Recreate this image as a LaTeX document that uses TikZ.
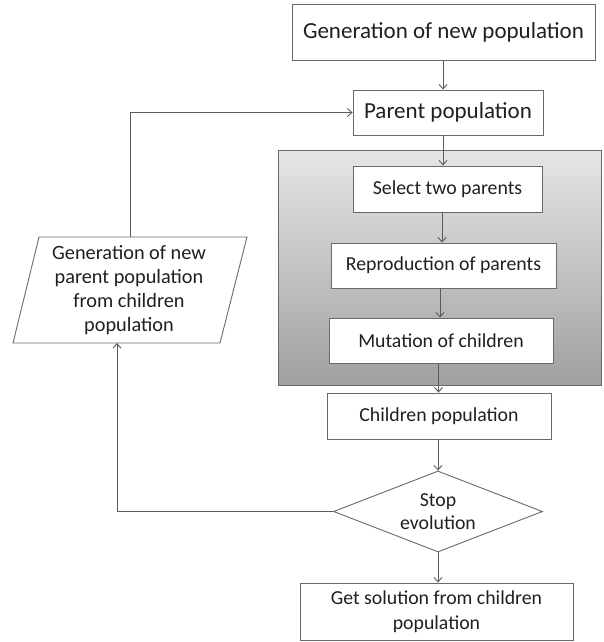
\documentclass[tikz,border=0pt]{standalone}
\usepackage{fontspec}
\setmainfont{Carlito}
\usetikzlibrary{arrows.meta,shapes.geometric,calc}
\definecolor{linec}{HTML}{5A5A5A}
\definecolor{boxc}{HTML}{6A6A6A}
\definecolor{txtc}{HTML}{202020}
\begin{document}
\begin{tikzpicture}[x=1pt,y=-1pt,
  every node/.style={text=txtc},
  box/.style={draw=boxc,line width=0.9pt,fill=white,inner sep=0pt,align=center,font=\fontsize{19.8}{24}\selectfont},
  bigbox/.style={box,font=\fontsize{23}{27}\selectfont},
  arr/.style={draw=linec,line width=0.9pt,-{Straight Barb[length=4.5pt,width=8pt]}},
  ln/.style={draw=linec,line width=0.9pt}]
\useasboundingbox (0,0) rectangle (603,642);
% gray frame
\shade[top color={rgb,255:red,230;green,230;blue,230},bottom color={rgb,255:red,160;green,160;blue,160},draw=boxc,line width=0.9pt] (278,150) rectangle (601,385);
\node[bigbox,minimum width=303pt,minimum height=56pt] (gen) at (443.5,32) {Generation of new population};
\node[bigbox,minimum width=190pt,minimum height=45pt] (parent) at (448,112.5) {Parent population};
\node[box,minimum width=189pt,minimum height=46pt] (sel) at (447.5,189) {Select two parents};
\node[box,minimum width=225pt,minimum height=45pt] (rep) at (443.5,265.5) {Reproduction of parents};
\node[box,minimum width=224pt,minimum height=45pt] (mut) at (441,340.5) {Mutation of children};
\node[box,minimum width=224pt,minimum height=46pt] (chi) at (439,416) {Children population};
\node[box,diamond,minimum width=209pt,minimum height=81pt,aspect=2.58,font=\fontsize{19.8}{23}\selectfont] (dia) at (438,511.5) {Stop\\evolution};
\node[box,minimum width=273pt,minimum height=57pt,font=\fontsize{19.8}{25}\selectfont] (sol) at (436.5,611.5) {Get solution from children\\population};
% parallelogram
\draw[draw=boxc,line width=0.9pt,fill=white] (39,237) -- (247,237) -- (220,343) -- (13,343) -- cycle;
\node[align=center,inner sep=0pt,font=\fontsize{20.3}{24}\selectfont] (newpar) at (129,290) {Generation of new\\parent population\\from children\\population};
\coordinate (ptop) at (130,237);
\coordinate (pbot) at (117,343);
\coordinate (xa) at (443,0);
\coordinate (xb) at (442,0);
\coordinate (xc) at (440,0);
\coordinate (xd) at (438.5,0);
\coordinate (xe) at (438,0);
% connectors
\draw[arr] (gen.south -| xa) -- (parent.north -| xa);
\draw[arr] (parent.south -| xa) -- (sel.north -| xa);
\draw[arr] (sel.south -| xb) -- (rep.north -| xb);
\draw[arr] (rep.south -| xc) -- (mut.north -| xc);
\draw[arr] (mut.south -| xd) -- (chi.north -| xd);
\draw[arr] (chi.south -| xe) -- (dia.north);
\draw[arr] (dia.south) -- (sol.north -| xe);
\draw[arr] (dia.west) -- (dia.west -| pbot) -- (pbot);
\draw[arr] (ptop) |- (parent.west);
\end{tikzpicture}
\end{document}
